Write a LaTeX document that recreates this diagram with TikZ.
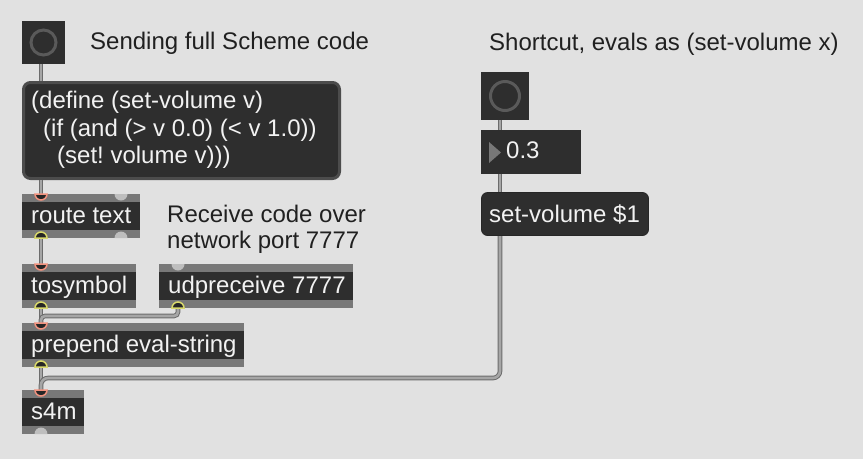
\documentclass[tikz,border=0pt]{standalone}
\usepackage{fontspec}
\setmainfont{Liberation Sans}
\frenchspacing
\definecolor{bg}{HTML}{E1E1E1}
\definecolor{objbody}{HTML}{2E2E2E}
\definecolor{band}{HTML}{787878}
\definecolor{txt}{HTML}{F2F2F2}
\definecolor{cmt}{HTML}{202020}
\definecolor{cabout}{HTML}{6C6C6C}
\definecolor{cabin}{HTML}{A6A6A6}
\definecolor{inring}{HTML}{F2927E}
\definecolor{outring}{HTML}{D9D96B}
\definecolor{unport}{HTML}{BEBEBE}
\definecolor{ringc}{HTML}{5A5A5A}
\definecolor{msgedge}{HTML}{4C4C4C}
\definecolor{portfill}{HTML}{262626}
\tikzset{
  objframe/.style={fill=band, draw=none, minimum height=44pt, inner sep=0pt, outer sep=0pt, anchor=north west},
  objtext/.style={anchor=base west, inner sep=0pt, text=txt, font=\fontsize{24}{28}\selectfont},
  cmttext/.style={anchor=base west, inner sep=0pt, text=cmt, font=\fontsize{24}{28}\selectfont},
  bangbox/.style={fill=objbody, draw=none, inner sep=0pt, outer sep=0pt, anchor=north west},
  msgbox/.style={fill=objbody, draw=msgedge, line width=3pt, rounded corners=7pt, inner sep=0pt, outer sep=0pt, anchor=north west},
  msgbox2/.style={fill=objbody, draw=black!70!gray, line width=0.8pt, rounded corners=6pt, inner sep=0pt, outer sep=0pt, anchor=north west},
  cable/.style={draw=cabout, double=cabin, double distance=2.6pt, line width=1pt, rounded corners=5pt},
}
\newcommand\mobj[5]{%
  \node[objframe, minimum width=#4pt] (#1) at (#2,#3) {};
  \fill[objbody] ([yshift=-8pt]#1.north west) rectangle ([yshift=8pt]#1.south east);
  \node[objtext] (#1-t) at (#2+9,#3+29) {#5};
}
% inlet: hangs below top edge
\newcommand\inlet[2]{%
  \filldraw[fill=portfill, draw=#2, line width=1.5pt] ([xshift=-6pt]#1) arc[start angle=180, end angle=360, radius=6pt] -- cycle;}
\newcommand\outlet[2]{%
  \filldraw[fill=portfill, draw=#2, line width=1.5pt] ([xshift=-6pt]#1) arc[start angle=180, end angle=0, radius=6pt] -- cycle;}
\newcommand\freein[1]{%
  \fill[unport] ([xshift=-6.5pt]#1) arc[start angle=180, end angle=360, radius=6.5pt] -- cycle;}
\newcommand\freeout[1]{%
  \fill[unport] ([xshift=-6.5pt]#1) arc[start angle=180, end angle=0, radius=6.5pt] -- cycle;}
\begin{document}
\begin{tikzpicture}[x=1pt,y=-1pt]
\fill[bg] (0,0) rectangle (863,459);
\useasboundingbox (0,0) rectangle (863,459);

% comments
\node[cmttext] (c1) at (90,49) {Sending full Scheme code};
\node[cmttext] (c2) at (489,50) {Shortcut, evals as (set-volume x)};
\node[cmttext] (c3) at (167,222) {Receive code over};
\node[cmttext] (c4) at (167,248) {network port 7777};

% left bang
\node[bangbox, minimum size=43pt] (bang1) at (22,21) {};
\draw[ringc, line width=3pt] (bang1.center) circle[radius=12.5pt];

% big message
\node[msgbox, minimum width=316pt, minimum height=96pt] (msg) at (23.5,82.5) {};
\node[objtext] (msg-l1) at (31,108) {(define (set-volume v)};
\node[objtext] (msg-l2) at (43,136) {(if (and (> v 0.0) (< v 1.0))};
\node[objtext] (msg-l3) at (57,163) {(set! volume v)))};

% objects
\mobj{route}{22}{194}{118}{route text}
\mobj{tosym}{22}{264}{114}{tosymbol}
\mobj{udp}{159}{264}{194}{udpreceive 7777}
\mobj{prep}{22}{323}{222}{prepend eval-string}
\mobj{sfm}{22}{390}{62}{s4m}

% right side
\node[bangbox, minimum size=48pt] (bang2) at (481,72) {};
\draw[ringc, line width=3pt] (bang2.center) circle[radius=14.5pt];
\node[bangbox, minimum width=100pt, minimum height=44pt] (num) at (481,130) {};
\fill[band] (489,142) -- (501,152.5) -- (489,163) -- cycle;
\node[objtext] (num-t) at (506,158) {0.3};
\node[msgbox2, minimum width=167pt, minimum height=43pt] (sv) at (481.5,192.5) {};
\node[objtext] (sv-t) at (489,222) {set-volume \$1};

% port coordinates
\coordinate (bang1-out) at ([xshift=19pt]bang1.south west);
\coordinate (msg-in) at (41,81);
\coordinate (msg-out) at (41,180);
\coordinate (route-in0) at ([xshift=19pt]route.north west);
\coordinate (route-in1) at ([xshift=99pt]route.north west);
\coordinate (route-out0) at ([xshift=19pt]route.south west);
\coordinate (route-out1) at ([xshift=99pt]route.south west);
\coordinate (tosym-in0) at ([xshift=19pt]tosym.north west);
\coordinate (tosym-out0) at ([xshift=19pt]tosym.south west);
\coordinate (udp-in0) at ([xshift=19pt]udp.north west);
\coordinate (udp-out0) at ([xshift=19pt]udp.south west);
\coordinate (prep-in0) at ([xshift=19pt]prep.north west);
\coordinate (prep-out0) at ([xshift=19pt]prep.south west);
\coordinate (sfm-in0) at ([xshift=19pt]sfm.north west);
\coordinate (sfm-out0) at ([xshift=19pt]sfm.south west);
\coordinate (bang2-out) at (500,120);
\coordinate (num-in) at (500,130);
\coordinate (num-out) at (500,174);
\coordinate (sv-in) at (500,192);
\coordinate (sv-out) at (500,236);

% cables
\draw[cable] (bang1-out) -- (msg-in);
\draw[cable] (msg-out) -- (route-in0);
\draw[cable] (route-out0) -- (tosym-in0);
\draw[cable] (tosym-out0) -- (prep-in0);
\draw[cable, rounded corners=4pt] (udp-out0) -- ++(0,8) -| (prep-in0);
\draw[cable] (prep-out0) -- (sfm-in0);
\draw[cable, rounded corners=7pt] (sv-out) -- ++(0,142) -| (sfm-in0);
\draw[cable] (bang2-out) -- (num-in);
\draw[cable] (num-out) -- (sv-in);

% ports
\inlet{route-in0}{inring}
\freein{route-in1}
\outlet{route-out0}{outring}
\freeout{route-out1}
\inlet{tosym-in0}{inring}
\outlet{tosym-out0}{outring}
\freein{udp-in0}
\outlet{udp-out0}{outring}
\inlet{prep-in0}{inring}
\outlet{prep-out0}{outring}
\inlet{sfm-in0}{inring}
\freeout{sfm-out0}
\end{tikzpicture}
\end{document}
